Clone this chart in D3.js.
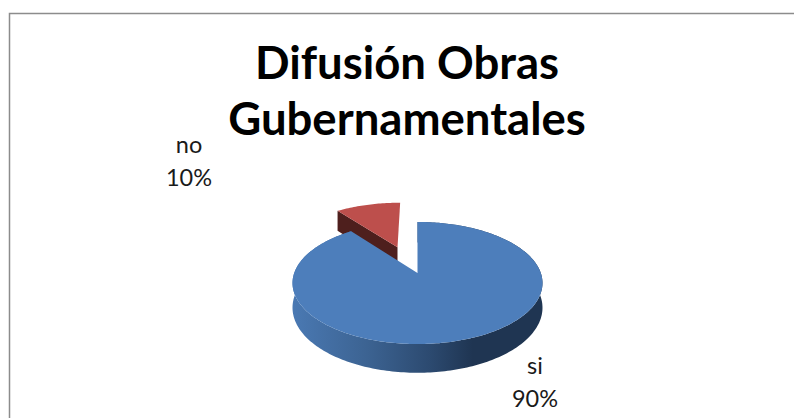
<!DOCTYPE html>
<html><head><meta charset="utf-8">
<script src="https://cdn.jsdelivr.net/npm/d3@7"></script>
<style>html,body{margin:0;background:#fff}svg{display:block}</style></head>
<body><svg id="c" width="794" height="418"></svg>
<script>
const titleLines = ["Difusión Obras", "Gubernamentales"];
const categories = ["si", "no"];
const values = [89.6, 10.4];
const colors = ["#4d7ebb", "#bd4f4c"];
const explode = [0, 0.5];

const svg = d3.select("#c");
const font = "Lato, 'Noto Sans', sans-serif";
svg.append("path").attr("d", "M9.5 418V13.5H794").attr("fill", "none").attr("stroke", "#8c8c8c").attr("stroke-width", 1.5);

const defs = svg.append("defs");
const g = defs.append("linearGradient").attr("id", "rim").attr("gradientUnits", "userSpaceOnUse").attr("x1", 292).attr("x2", 543).attr("y1", 0).attr("y2", 0);
[[0, "#4a79b3"], [0.3, "#3c6392"], [0.55, "#2c4a70"], [0.72, "#1f3552"], [1, "#1f3552"]].forEach(s => g.append("stop").attr("offset", s[0]).attr("stop-color", s[1]));

const CX = 417.5, CY = 273, RX = 123.3, RY = 59.4, K = 0.164, H = 24;
const project = (X, Y, z = 0) => {
  const w = 1 - K * Y;
  return [CX + RX * X / w, CY + RY * Y / w + z / w];
};
const pie = d3.pie().sort(null).value(d => d).startAngle(0).endAngle(2 * Math.PI);
const arcs = pie(values);

function rimPoints(a0, a1, off, z) {
  const n = Math.max(2, Math.ceil((a1 - a0) / 0.02));
  return d3.range(n + 1).map(i => {
    const a = a0 + (a1 - a0) * i / n;
    return project(off[0] + Math.sin(a), off[1] - Math.cos(a), z);
  });
}
const line = d3.line();
const offsetOf = i => {
  const m = (arcs[i].startAngle + arcs[i].endAngle) / 2 - 0.03;
  return [explode[i] * Math.sin(m), -explode[i] * Math.cos(m)];
};

{
  const off = offsetOf(1), a0 = arcs[1].startAngle, a1 = arcs[1].endAngle;
  const topApex = project(off[0], off[1]), botApex = project(off[0], off[1], H);
  const topL = rimPoints(a0, a0, off, 0)[0], botL = rimPoints(a0, a0, off, H)[0];
  svg.append("path").attr("d", line([topL, topApex, botApex, botL]) + "Z").attr("fill", "#4e1f1d");
  svg.append("path").attr("d", line([topApex, ...rimPoints(a0, a1, off, 0)]) + "Z").attr("fill", colors[1]);
}
{
  const a0 = arcs[0].startAngle, a1 = arcs[0].endAngle, off = offsetOf(0);
  const top = rimPoints(a0, a1, off, 0), bot = rimPoints(a0, a1, off, H);
  svg.append("path").attr("d", line([...top, ...bot.reverse()]) + "Z").attr("fill", "url(#rim)");
  svg.append("path").attr("d", line([project(off[0], off[1]), ...top]) + "Z").attr("fill", colors[0]);
}

const title = svg.append("text").attr("font-family", font).attr("font-weight", 700).attr("font-size", 45.5).attr("fill", "#000").attr("text-anchor", "middle");
title.selectAll("tspan").data(titleLines).join("tspan").attr("x", 407).attr("y", (d, i) => 79 + i * 56).text(d => d);

const labelPos = [[535, 374], [189, 153]];
categories.forEach((c, i) => {
  const t = svg.append("text").attr("font-family", font).attr("font-size", 23.5).attr("fill", "#1a1a1a").attr("text-anchor", "middle");
  const pct = d3.format(".0%")(values[i] / d3.sum(values));
  t.append("tspan").attr("x", labelPos[i][0]).attr("y", labelPos[i][1]).text(c);
  t.append("tspan").attr("x", labelPos[i][0]).attr("y", labelPos[i][1] + 32.5).text(pct);
});
</script></body></html>
